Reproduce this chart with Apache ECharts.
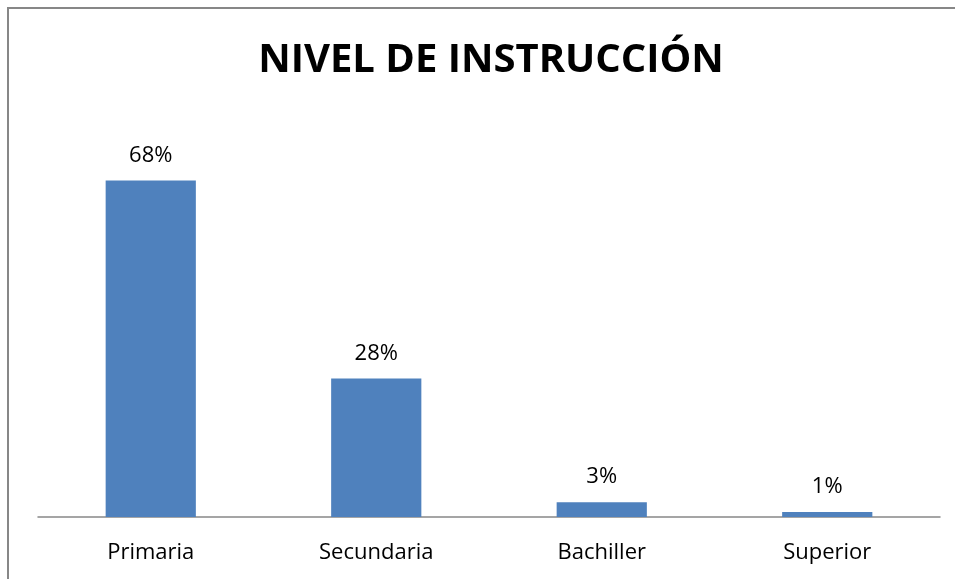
<!DOCTYPE html>
<html>
<head>
<meta charset="utf-8">
<script src="https://cdn.jsdelivr.net/npm/echarts@6/dist/echarts.min.js"></script>
<style>
  html, body { margin: 0; padding: 0; background: #fff; overflow: hidden; }
  #chart { width: 955px; height: 579px; }
</style>
</head>
<body>
<div id="chart"></div>
<script>
const title = "NIVEL DE INSTRUCCIÓN";
const categories = ["Primaria", "Secundaria", "Bachiller", "Superior"];
const values = [68, 28, 3, 1];

const font = "'Open Sans', Calibri, sans-serif";
const chart = echarts.init(document.getElementById("chart"));

chart.setOption({
  animation: false,
  textStyle: { fontFamily: font },
  title: {
    text: title,
    top: 36,
    left: 486,
    textAlign: "center",
    textStyle: { fontFamily: font, fontWeight: "bold", fontSize: 40, color: "#000" },
  },
  // chart area frame: only the top and left edges fall inside the picture
  graphic: [{
    type: "polyline",
    shape: { points: [[8, 620], [8, 8], [1000, 8]] },
    style: { fill: null, stroke: "#878787", lineWidth: 2 },
  }],
  grid: { top: 121, right: 15, bottom: 62, left: 38 },
  xAxis: {
    type: "category",
    data: categories,
    axisLine: { lineStyle: { color: "#888", width: 1.5 } },
    axisTick: { show: false },
    axisLabel: { color: "#000", fontSize: 22, margin: 25, fontFamily: font },
  },
  yAxis: {
    type: "value",
    min: 0,
    max: 80,
    show: false,
    splitLine: { show: false },
  },
  series: [{
    type: "bar",
    data: values,
    barWidth: "40%",
    itemStyle: { color: "#4F81BD" },
    label: {
      show: true,
      position: "top",
      distance: 14,
      formatter: (p) => p.value + "%",
      color: "#000",
      fontSize: 22,
      fontFamily: font,
    },
  }],
});
</script>
</body>
</html>
